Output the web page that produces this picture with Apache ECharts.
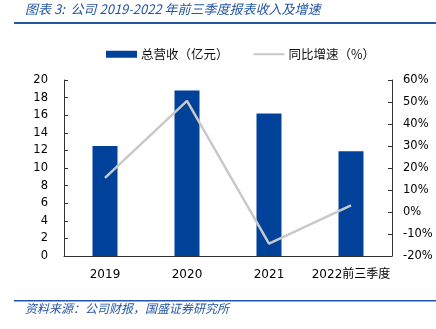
<!DOCTYPE html>
<html><head><meta charset="utf-8">
<script src="https://cdn.jsdelivr.net/npm/echarts@6/dist/echarts.min.js"></script>
<style>html,body{margin:0;padding:0;background:#fff}#c{width:436px;height:329px}</style>
</head><body><div id="c"></div>
<script>
const categories = ['2019', '2020', '2021', '2022前三季度'];
const revenue = [12.5, 18.8, 16.2, 11.9];
const growth = [15.5, 50.5, -14.4, 3.0];
const leftTicks = [0, 20, 2];
const rightTicks = [-20, 60, 10];
const seriesNames = ['总营收（亿元）', '同比增速（%）'];
const titleText = '图表 3:  公司 2019-2022 年前三季度报表收入及增速';
const sourceText = '资料来源：公司财报，国盛证券研究所';

const chart = echarts.init(document.getElementById('c'), null, {renderer: 'canvas'});
const axisCol = '#333';
const lblFont = {color: '#000', fontSize: 11.5, fontFamily: 'DejaVu Sans'};
chart.setOption({
  animation: false,
  grid: {left: 64, right: 44, top: 80, bottom: 73},
  legend: {
    left: 101, top: 43, itemWidth: 31, itemHeight: 7, itemGap: 24,
    textStyle: {fontSize: 12.5, color: '#111', fontFamily: 'Noto Sans CJK SC', padding: [0, 0, 0, -1]},
    data: [{name: seriesNames[0], icon: 'rect'}, {name: seriesNames[1], itemStyle: {opacity: 0}}]
  },
  xAxis: {
    type: 'category', data: categories,
    axisLine: {lineStyle: {color: axisCol, width: 1}},
    axisTick: {inside: true, length: 4, lineStyle: {color: axisCol}},
    axisLabel: {interval: 0, margin: 13, color: '#000', fontSize: 12, fontFamily: 'DejaVu Sans, Noto Sans CJK SC'}
  },
  yAxis: [{
    type: 'value', min: leftTicks[0], max: leftTicks[1], interval: leftTicks[2],
    axisLine: {show: true, lineStyle: {color: axisCol}},
    axisTick: {show: true, inside: true, length: 4, lineStyle: {color: axisCol}},
    splitLine: {show: false},
    axisLabel: Object.assign({margin: 16}, lblFont)
  }, {
    type: 'value', min: rightTicks[0], max: rightTicks[1], interval: rightTicks[2],
    axisLine: {show: true, lineStyle: {color: axisCol}},
    axisTick: {show: true, inside: true, length: 4, lineStyle: {color: axisCol}},
    splitLine: {show: false},
    axisLabel: Object.assign({margin: 11, formatter: '{value}%'}, lblFont)
  }],
  series: [{
    name: seriesNames[0], type: 'bar', data: revenue, barWidth: 25,
    itemStyle: {color: '#00419a'}
  }, {
    name: seriesNames[1], type: 'line', yAxisIndex: 1, data: growth,
    symbol: 'none', lineStyle: {color: '#c9c9c9', width: 2.5}, itemStyle: {color: '#c9c9c9'}
  }],
  graphic: [
    {type: 'text', left: 25, top: 3, style: {text: titleText, fill: '#2356a4', font: 'italic 13px "Noto Sans CJK SC", "DejaVu Sans"'}},
    {type: 'rect', shape: {x: 14, y: 22, width: 422, height: 2}, style: {fill: '#2356a4'}},
    {type: 'rect', shape: {x: 14, y: 300, width: 422, height: 1.5}, style: {fill: '#2356a4'}},
    {type: 'text', left: 25, top: 302, style: {text: sourceText, fill: '#2356a4', font: 'italic 12px "Noto Sans CJK SC"'}}
  ]
});
</script></body></html>
